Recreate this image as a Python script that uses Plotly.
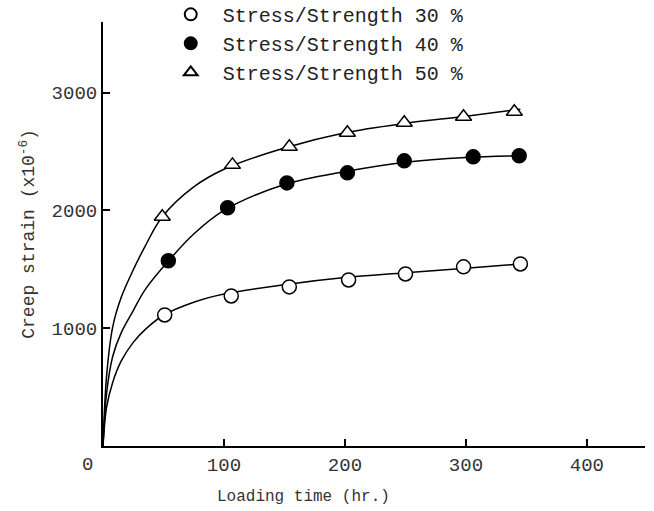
import plotly.graph_objects as go

# measured points
t30 = [51, 106, 154, 203, 250, 298, 345]
e30 = [1113, 1274, 1351, 1410, 1461, 1521, 1546]
t40 = [54, 103, 152, 202, 249, 306, 344]
e40 = [1572, 2022, 2234, 2319, 2421, 2455, 2464]
t50 = [49, 107, 154, 202, 249, 298, 340]
e50 = [1946, 2387, 2540, 2659, 2744, 2795, 2838]

# fitted curves
ct30 = [0, 3, 8, 15, 25, 35, 50, 75, 100, 150, 200, 250, 300, 345]
ce30 = [0, 330, 540, 720, 880, 990, 1110, 1220, 1290, 1370, 1430, 1470, 1510, 1545]
ct40 = [0, 3, 8, 15, 25, 35, 54, 75, 100, 150, 200, 250, 300, 345]
ce40 = [0, 450, 760, 960, 1150, 1330, 1570, 1800, 2000, 2220, 2330, 2410, 2450, 2465]
ct50 = [0, 3, 8, 15, 25, 35, 49, 75, 100, 150, 200, 250, 300, 345]
ce50 = [0, 600, 1010, 1260, 1495, 1700, 1946, 2200, 2350, 2530, 2660, 2740, 2800, 2860]

labels = ["Stress/Strength 30 %", "Stress/Strength 40 %", "Stress/Strength 50 %"]
xticks = [100, 200, 300, 400]
yticks = [1000, 2000, 3000]

fig = go.Figure()
for ct, ce in [(ct30, ce30), (ct40, ce40), (ct50, ce50)]:
    fig.add_trace(go.Scatter(x=ct, y=ce, mode="lines", line=dict(color="black", width=1.5, shape="spline", smoothing=1.0),
                             showlegend=False, hoverinfo="skip"))

styles = [dict(symbol="circle", color="white", line=dict(color="black", width=1.5)),
          dict(symbol="circle", color="black", line=dict(color="black", width=1.5)),
          dict(symbol="triangle-up", color="white", line=dict(color="black", width=1.5))]
for (tt, ee), lab, st in zip([(t30, e30), (t40, e40), (t50, e50)], labels, styles):
    fig.add_trace(go.Scatter(x=tt, y=ee, mode="markers", name=" " + lab,
                             marker=dict(size=14, **st)))

mono = "Liberation Mono"
fig.update_layout(
    width=654, height=511,
    margin=dict(l=103, r=9, t=22, b=65, autoexpand=False),
    paper_bgcolor="white", plot_bgcolor="white",
    font=dict(family=mono, color="#222", size=18),
    legend=dict(x=0.125, y=1.064, xanchor="left", yanchor="top", bgcolor="rgba(0,0,0,0)",
                font=dict(family=mono, size=20, color="#222"), tracegroupgap=0, itemsizing="constant"),
    xaxis=dict(range=[0, 448], showline=True, linecolor="black", linewidth=2, showgrid=False, zeroline=False,
               tickvals=xticks, ticktext=[str(v) for v in xticks], ticks="inside", ticklen=7, tickcolor="black",
               tickwidth=1.5, tickfont=dict(family=mono, size=19, color="#333")),
    yaxis=dict(range=[0, 3600], showline=True, linecolor="black", linewidth=2, showgrid=False, zeroline=False,
               tickvals=yticks, ticktext=[str(v) for v in yticks], ticks="inside", ticklen=7, tickcolor="black",
               tickwidth=1.5, tickfont=dict(family=mono, size=19, color="#333"),
               title=dict(text="Creep strain (x10<sup>-6</sup>)", font=dict(family=mono, size=18, color="#333"), standoff=12)),
    annotations=[
        dict(text="Loading time (hr.)", xref="paper", yref="paper", x=0.37, y=-0.095, xanchor="center", yanchor="top",
             showarrow=False, font=dict(family=mono, size=16, color="#333")),
        dict(text="0", xref="paper", yref="paper", x=-0.028, y=-0.015, xanchor="center", yanchor="top",
             showarrow=False, font=dict(family=mono, size=19, color="#333")),
    ],
)
fig.write_html("out.html")
